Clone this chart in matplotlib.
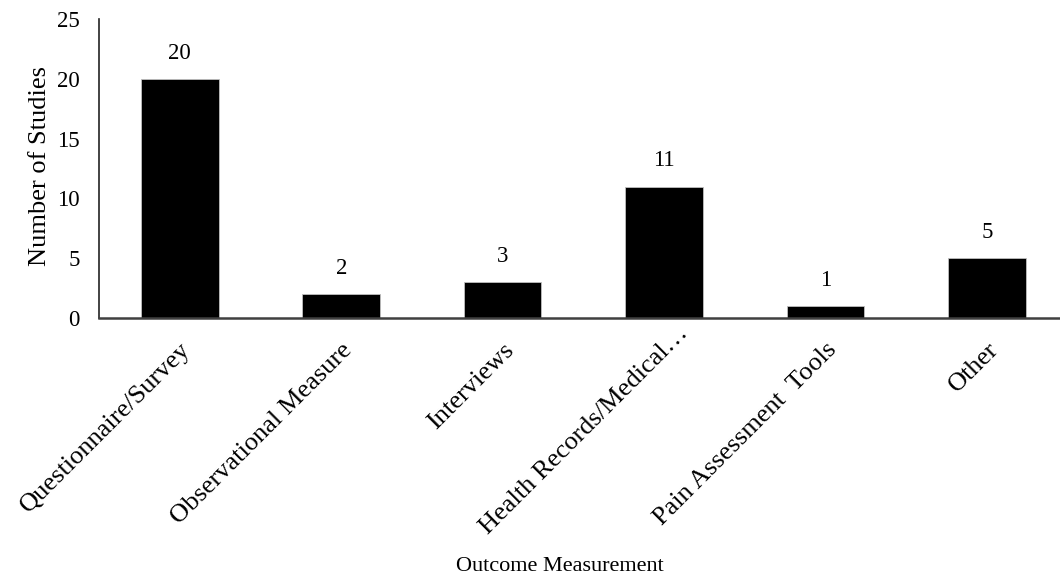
import matplotlib
matplotlib.use("Agg")
import matplotlib.pyplot as plt
import matplotlib.transforms as mtransforms

categories = ["Questionnaire/Survey", "Observational Measure", "Interviews",
              "Health Records/Medical\u2026", "Pain Assessment  Tools", "Other"]
values = [20, 2, 3, 11, 1, 5]
yticks = [0, 5, 10, 15, 20, 25]

plt.rcParams['font.family'] = ['Liberation Serif', 'DejaVu Serif']

fig = plt.figure(figsize=(10.6, 5.81), dpi=100)
ax = fig.add_axes([0.0934, 0.4527, 0.9141, 0.5143])

x = list(range(len(categories)))
bars = ax.bar(x, values, width=0.48, color='black', edgecolor='#bfbfbf', linewidth=0.6)
for xi, v in zip(x, values):
    ax.annotate(str(v), (xi, v), xytext=(0, 11), textcoords='offset points',
                ha='center', va='bottom', fontsize=16.5)

ax.set_xlim(-0.5, len(categories) - 0.5)
ax.set_ylim(0, 25)
ax.set_yticks(yticks)
ax.set_xticks(x)
labels = ax.set_xticklabels(categories, rotation=45, ha='right', rotation_mode='anchor', fontsize=19)
ax.tick_params(axis='y', length=0, labelsize=16.5, pad=14)
ax.tick_params(axis='x', length=0, pad=15)

# the truncated label sits a bit further up-right in the original
shift = mtransforms.ScaledTranslation(13 / 100, 17 / 100, fig.dpi_scale_trans)
labels[3].set_transform(labels[3].get_transform() + shift)

for s in ['top', 'right']:
    ax.spines[s].set_visible(False)
ax.spines['left'].set_color('#222222')
ax.spines['left'].set_linewidth(1.2)
ax.spines['bottom'].set_color('#404040')
ax.spines['bottom'].set_linewidth(1.8)

ax.set_ylabel("Number of Studies", fontsize=19)
ax.set_xlabel("Outcome Measurement", fontsize=16)
ax.yaxis.set_label_coords(-0.05, 0.509)
ax.xaxis.set_label_coords(0.476, -0.80)

fig.savefig("out.png", dpi=100)
